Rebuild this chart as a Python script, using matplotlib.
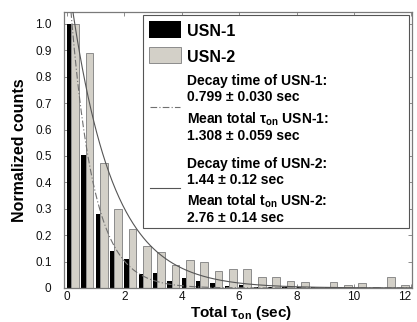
import numpy as np
import matplotlib.pyplot as plt
from matplotlib.patches import Rectangle
from matplotlib.lines import Line2D

plt.rcParams['font.family'] = ['Liberation Sans', 'DejaVu Sans']
plt.rcParams['mathtext.fontset'] = 'custom'
plt.rcParams['mathtext.rm'] = 'Liberation Sans'
plt.rcParams['mathtext.it'] = 'Liberation Sans:italic'
plt.rcParams['mathtext.bf'] = 'Liberation Sans:bold'

# histogram of total on-time, 0.5 s bins
bin_width = 0.5
usn1_counts = [1.0, 0.503, 0.28, 0.14, 0.11, 0.053, 0.056, 0.028, 0.037, 0.026,
               0.02, 0.008, 0.012, 0.005, 0.003, 0.005, 0.002, 0.002, 0.002, 0.0,
               0.0, 0.0, 0.0, 0.0]
usn2_counts = [1.0, 0.89, 0.475, 0.30, 0.223, 0.158, 0.135, 0.087, 0.106, 0.10,
               0.065, 0.071, 0.071, 0.04, 0.04, 0.028, 0.023, 0.003, 0.023, 0.012,
               0.018, 0.005, 0.04, 0.013]

# exponential fits: amplitude, decay time (sec)
usn1_fit = (1.25, 0.799)
usn2_fit = (1.21, 1.44)

x_ticks = [0, 2, 4, 6, 8, 10, 12]
y_ticks = [0, 0.1, 0.2, 0.3, 0.4, 0.5, 0.6, 0.7, 0.8, 0.9, 1.0]
y_ticklabels = ['0', '0.1', '0.2', '0.3', '0.4', '0.5', '0.6', '0.7', '0.8', '0.9', '1.0']

legend_texts = [
    ('USN-1', 0.913, 11.5),
    ('USN-2', 0.820, 11.5),
    ('Decay time of USN-1:', 0.7355, 10),
    ('0.799 ± 0.030 sec', 0.6786, 10),
    ('Mean total τ$_{\\mathbf{on}}$ USN-1:', 0.594, 10),
    ('1.308 ± 0.059 sec', 0.536, 10),
    ('Decay time of USN-2:', 0.436, 10),
    ('1.44 ± 0.12 sec', 0.377, 10),
    ('Mean total t$_{\\mathbf{on}}$ USN-2:', 0.297, 10),
    ('2.76 ± 0.14 sec', 0.240, 10),
]

gray_face = '#d3d0c8'
gray_edge = '#8c8c8c'
frame_col = '#7a7a7a'

fig = plt.figure(figsize=(4.17, 3.22), dpi=100)
ax = fig.add_axes([0.1535, 0.1056, 0.8345, 0.8571])

bins = np.arange(len(usn1_counts)) * bin_width
ax.bar(bins, usn1_counts, width=0.15, align='edge', color='black', zorder=2)
ax.bar(bins + 0.15, usn2_counts, width=0.27, align='edge', color=gray_face,
       edgecolor=gray_edge, linewidth=0.7, zorder=2)

t = np.linspace(0, 12, 600)
ax.plot(t, usn1_fit[0] * np.exp(-t / usn1_fit[1]), color='#707070', lw=0.8,
        linestyle=(0, (6, 2, 1, 2)), zorder=3)
ax.plot(t, usn2_fit[0] * np.exp(-t / usn2_fit[1]), color='#555555', lw=0.8, zorder=3)

ax.set_xlim(-0.1, 12.02)
ax.set_ylim(0, 1.045)
ax.set_xticks(x_ticks)
ax.set_yticks(y_ticks)
ax.set_yticklabels(y_ticklabels)
ax.tick_params(direction='in', top=True, right=True, length=3, width=0.6,
               color=frame_col, labelsize=8.5, labelcolor='#111111')
ax.tick_params(axis='y', pad=9)
ax.tick_params(axis='x', pad=2.5)
for sp in ax.spines.values():
    sp.set_color(frame_col)
    sp.set_linewidth(0.9)
# last x label sits at the right edge of the figure
ax.get_xticklabels()[-1].set_horizontalalignment('right')

ax.set_ylabel('Normalized counts', fontsize=11.5, fontweight='bold')
ax.yaxis.set_label_coords(-0.106, 0.5)
ax.set_xlabel('Total τ$_{\\mathbf{on}}$ (sec)', fontsize=11, fontweight='bold')
ax.xaxis.set_label_coords(0.51, -0.058)

# legend box drawn by hand
tr = ax.transAxes
ax.add_patch(Rectangle((0.227, 0.217), 0.764, 0.772, transform=tr, facecolor='white',
                       edgecolor='#555555', lw=0.8, zorder=5))
ax.add_patch(Rectangle((0.244, 0.906), 0.092, 0.061, transform=tr, facecolor='black',
                       zorder=6))
ax.add_patch(Rectangle((0.244, 0.815), 0.092, 0.058, transform=tr, facecolor=gray_face,
                       edgecolor=gray_edge, lw=0.7, zorder=6))
ax.add_line(Line2D([0.247, 0.333], [0.656, 0.656], transform=tr, color='#707070', lw=0.8,
                   linestyle=(0, (6, 2, 1, 2)), zorder=6))
ax.add_line(Line2D([0.247, 0.333], [0.362, 0.362], transform=tr, color='#555555', lw=0.8,
                   zorder=6))
for txt, yy, fs in legend_texts:
    ax.text(0.353, yy, txt, transform=tr, fontsize=fs, fontweight='bold',
            va='baseline', ha='left', zorder=7)

fig.savefig('out.png', dpi=100)
